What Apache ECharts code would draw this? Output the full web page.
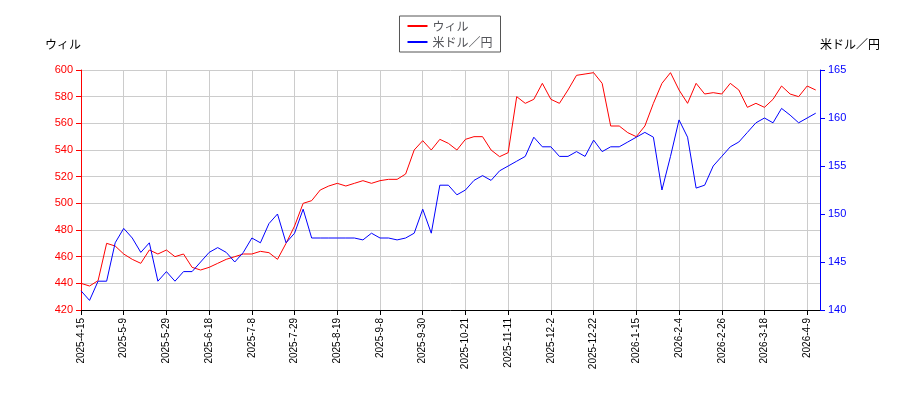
<!DOCTYPE html>
<html><head><meta charset="utf-8">
<script src="https://cdn.jsdelivr.net/npm/echarts@6/dist/echarts.min.js"></script>
<style>body{margin:0}#main{width:900px;height:400px}</style>
</head><body><div id="main"></div>
<script>
var tickLabels = ['2025-4-15','2025-5-9','2025-5-29','2025-6-18','2025-7-8','2025-7-29','2025-8-19','2025-9-8','2025-9-30','2025-10-21','2025-11-11','2025-12-2','2025-12-22','2026-1-15','2026-2-4','2026-2-26','2026-3-18','2026-4-9'];
var willy = [440,438,442,470,468,462,458,455,465,462,465,460,462,452,450,452,455,458,460,462,462,464,463,458,470,483,500,502,510,513,515,513,515,517,515,517,518,518,522,540,547,540,548,545,540,548,550,550,540,535,538,580,575,578,590,578,575,585,596,597,598,590,558,558,553,550,558,575,590,598,585,575,590,582,583,582,590,585,572,575,572,578,588,582,580,588,585];
var usdjpy = [142,141,143,143,147,148.5,147.5,146,147,143,144,143,144,144,145,146,146.5,146,145,146,147.5,147,149,150,147,148,150.5,147.5,147.5,147.5,147.5,147.5,147.5,147.3,148,147.5,147.5,147.3,147.5,148,150.5,148,153,153,152,152.5,153.5,154,153.5,154.5,155,155.5,156,158,157,157,156,156,156.5,156,157.7,156.5,157,157,157.5,158,158.5,158,152.5,156,159.8,158,152.7,153,155,156,157,157.5,158.5,159.5,160,159.5,161,160.3,159.5,160,160.5];

var chart = echarts.init(document.getElementById('main'));
function pts(arr) { return arr.map(function (v, i) { return [i, v]; }); }
chart.setOption({
  animation: false,
  grid: { left: 81, right: 80, top: 70, bottom: 90 },
  legend: {
    top: 16, left: 'center', orient: 'vertical', itemGap: 4,
    borderColor: '#555', borderWidth: 1, padding: [4, 8],
    itemWidth: 20, itemHeight: 2,
    textStyle: { fontSize: 12, fontFamily: 'Noto Sans CJK JP' },
    data: [{ name: 'ウィル', icon: 'rect' }, { name: '米ドル／円', icon: 'rect' }]
  },
  xAxis: {
    type: 'value', min: 0, max: 86.5, interval: 5,
    axisLine: { lineStyle: { color: '#000' } },
    axisTick: { lineStyle: { color: '#000' } },
    splitLine: { lineStyle: { color: '#ccc' } },
    axisLabel: {
      rotate: 90, fontSize: 10, color: '#000', showMaxLabel: false,
      formatter: function (v) { return tickLabels[Math.round(v / 5)] || ''; }
    }
  },
  yAxis: [{
    type: 'value', min: 420, max: 600, interval: 20,
    name: 'ウィル', nameGap: 20, nameTextStyle: { color: '#000', align: 'right', fontFamily: 'Noto Sans CJK JP' },
    axisLine: { show: true, lineStyle: { color: 'red' } },
    axisTick: { show: true },
    axisLabel: { color: 'red', fontSize: 11 },
    splitLine: { lineStyle: { color: '#ccc' } }
  }, {
    type: 'value', min: 140, max: 165, interval: 5,
    name: '米ドル／円', nameGap: 20, nameTextStyle: { color: '#000', align: 'left', fontFamily: 'Noto Sans CJK JP' },
    axisLine: { show: true, lineStyle: { color: 'blue' } },
    axisTick: { show: true },
    axisLabel: { color: 'blue', fontSize: 11 },
    splitLine: { show: false }
  }],
  series: [{
    name: 'ウィル', type: 'line', yAxisIndex: 0, data: pts(willy),
    showSymbol: false, lineStyle: { color: 'red', width: 1 }, itemStyle: { color: 'red' }
  }, {
    name: '米ドル／円', type: 'line', yAxisIndex: 1, data: pts(usdjpy),
    showSymbol: false, lineStyle: { color: 'blue', width: 1 }, itemStyle: { color: 'blue' }
  }]
});
</script></body></html>
